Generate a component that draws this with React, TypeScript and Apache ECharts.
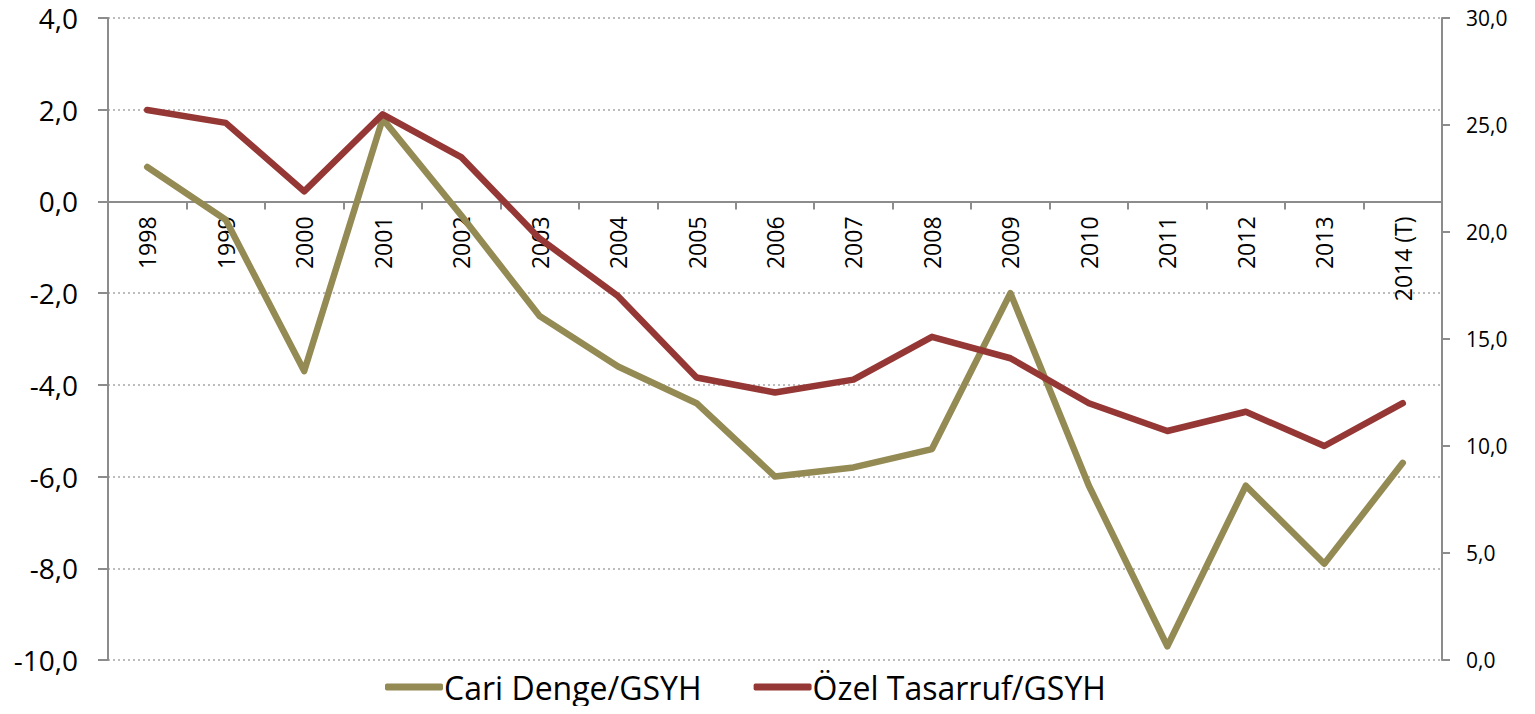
import React, { useEffect, useRef } from "react";
import * as echarts from "echarts";

const years = ["1998", "1999", "2000", "2001", "2002", "2003", "2004", "2005", "2006", "2007", "2008", "2009", "2010", "2011", "2012", "2013", "2014 (T)"];
const cariDenge = [0.75, -0.4, -3.7, 1.8, -0.3, -2.5, -3.6, -4.4, -6.0, -5.8, -5.4, -2.0, -6.2, -9.7, -6.2, -7.9, -5.7];
const ozelTasarruf = [25.7, 25.1, 21.9, 25.5, 23.5, 19.7, 17.0, 13.2, 12.5, 13.1, 15.1, 14.1, 12.0, 10.7, 11.6, 10.0, 12.0];
const seriesNames = ["Cari Denge/GSYH", "Özel Tasarruf/GSYH"];

const FONT = "'Open Sans', sans-serif";
const fmt = (v: number) => v.toFixed(1).replace(".", ",");

const GRID_TOP = 18;
const GRID_BOTTOM = 54;
const H = 714;
const LEFT_MIN = -10;
const LEFT_MAX = 4;

export default function App() {
  const ref = useRef<HTMLDivElement>(null);
  useEffect(() => {
    if (!ref.current) return;
    const chart = echarts.init(ref.current, null, { renderer: "svg" });
    const gridH = H - GRID_TOP - GRID_BOTTOM;
    const zeroOffset = -(gridH * (0 - LEFT_MIN)) / (LEFT_MAX - LEFT_MIN);
    chart.setOption({
      animation: false,
      backgroundColor: "#ffffff",
      textStyle: { fontFamily: FONT },
      grid: { left: 108, right: 93, top: GRID_TOP, bottom: GRID_BOTTOM, containLabel: false, outerBoundsMode: "none" },
      legend: {
        top: 671,
        left: 385,
        icon: "roundRect",
        itemWidth: 58,
        itemHeight: 7,
        itemGap: 52,
        padding: 0,
        textStyle: { fontSize: 32, color: "#000", fontFamily: FONT, padding: [0, 0, 0, -4] },
        data: seriesNames,
      },
      xAxis: {
        type: "category",
        data: years,
        boundaryGap: true,
        position: "bottom",
        offset: zeroOffset,
        axisLine: { onZero: false, lineStyle: { color: "#8c8c8c", width: 2 } },
        axisTick: { show: true, length: 8, inside: false, lineStyle: { color: "#8c8c8c", width: 2 } },
        axisLabel: { rotate: 90, fontSize: 23, color: "#000", margin: 15, fontFamily: FONT },
        splitLine: { show: false },
      },
      yAxis: [
        {
          type: "value",
          min: LEFT_MIN,
          max: LEFT_MAX,
          interval: 2,
          axisLine: { show: true, lineStyle: { color: "#8c8c8c", width: 2 } },
          axisTick: { show: true, length: 10, lineStyle: { color: "#8c8c8c", width: 2 } },
          axisLabel: { formatter: fmt, fontSize: 28, color: "#000", margin: 30, fontFamily: FONT },
          splitLine: { show: true, lineStyle: { color: "#a6a6a6", width: 1.5, type: [2, 3] } },
        },
        {
          type: "value",
          min: 0,
          max: 30,
          interval: 5,
          position: "right",
          axisLine: { show: true, lineStyle: { color: "#8c8c8c", width: 2 } },
          axisTick: { show: true, length: 8, lineStyle: { color: "#8c8c8c", width: 2 } },
          axisLabel: { formatter: fmt, fontSize: 21, color: "#000", margin: 24, fontFamily: FONT },
          splitLine: { show: false },
        },
      ],
      series: [
        {
          name: seriesNames[0],
          type: "line",
          yAxisIndex: 0,
          data: cariDenge,
          symbol: "none",
          lineStyle: { color: "#948A54", width: 6.5, cap: "round", join: "round" },
          itemStyle: { color: "#948A54" },
          z: 3,
        },
        {
          name: seriesNames[1],
          type: "line",
          yAxisIndex: 1,
          data: ozelTasarruf,
          symbol: "none",
          lineStyle: { color: "#953735", width: 6.5, cap: "round", join: "round" },
          itemStyle: { color: "#953735" },
          z: 4,
        },
      ],
    });
    return () => chart.dispose();
  }, []);
  return <div ref={ref} style={{ width: 1535, height: 714, margin: -8 }} />;
}
